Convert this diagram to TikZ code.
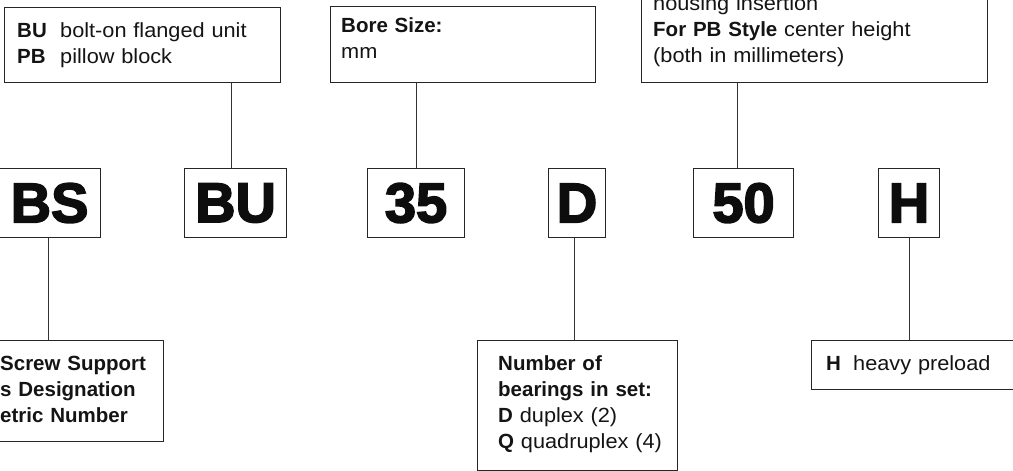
\documentclass[tikz,border=0pt]{standalone}
\usepackage{fontspec}
\setmainfont{Liberation Sans}[UprightFeatures={FakeStretch=1.06}]
\newfontfamily\heavy[BoldFeatures={FakeBold=3}]{Liberation Sans}
\begin{document}
\begin{tikzpicture}[x=1pt,y=-1pt,
  box/.style={draw=black!85, line width=1.1pt, inner sep=0pt, anchor=north west},
  code/.style={draw=black!85, line width=1.1pt, inner sep=0pt, anchor=north west,
    minimum height=69pt, font=\heavy\bfseries\fontsize{56}{60}\selectfont, text=black!95},
  txt/.style={inner sep=0pt, anchor=base west, align=left, text width=#1,
    font=\fontsize{20.5}{26}\selectfont, text=black!92},
  conn/.style={draw=black!80, line width=1.1pt}]
\useasboundingbox (0,0) rectangle (1013,471);
% top boxes
\node[box, minimum width=276pt, minimum height=75pt] (tl) at (4,7) {};
\node[txt=260pt] (tlt) at (17,37) {\makebox[43pt][l]{\textbf{BU}}bolt-on flanged unit\\\makebox[43pt][l]{\textbf{PB}}pillow block};
\node[box, minimum width=265pt, minimum height=76pt] (bore) at (330,6) {};
\node[txt=240pt] (boret) at (341,32) {\textbf{Bore Size:}\\mm};
\node[box, minimum width=346pt, minimum height=142pt] (tr) at (641,-60) {};
\node[txt=330pt] (trt) at (653,10) {housing insertion\\\textbf{For PB Style} center height\\(both in millimeters)};
% code boxes
\node[code, minimum width=102pt] (bs) at (-2,168) {BS};
\node[code, minimum width=102pt] (bu) at (184,168) {BU};
\node[code, minimum width=97pt] (th) at (367,168) {35};
\node[code, minimum width=57pt] (d) at (548,168) {D};
\node[code, minimum width=100pt] (fi) at (693,168) {50};
\node[code, minimum width=61pt] (h) at (878,168) {H};
% bottom boxes
\node[box, minimum width=263pt, minimum height=101pt] (bsd) at (-100,340) {};
\node[txt=200pt] (bsdt) at (0,370) {\textbf{\llap{Ball }Screw Support}\\\textbf{\llap{Bearing}s Designation}\\\textbf{\llap{M}etric Number}};
\node[box, minimum width=200pt, minimum height=130pt] (dd) at (477,340) {};
\node[txt=190pt] (ddt) at (498,370) {\textbf{Number of}\\\textbf{bearings in set:}\\\textbf{D} duplex (2)\\\textbf{Q} quadruplex (4)};
\node[box, minimum width=215pt, minimum height=49pt] (hd) at (811,340) {};
\node[txt=190pt] (hdt) at (826,370) {\makebox[27pt][l]{\textbf{H}}heavy preload};
% connectors
\draw[conn] ([xshift=-4pt]bu.north) -- ([xshift=-4pt]bu.north |- tl.south);
\draw[conn] (th.north) -- (th.north |- bore.south);
\draw[conn] ([xshift=-6pt]fi.north) -- ([xshift=-6pt]fi.north |- tr.south);
\draw[conn] ([xshift=-1pt]bs.south) -- ([xshift=-1pt]bs.south |- bsd.north);
\draw[conn] ([xshift=-2.5pt]d.south) -- ([xshift=-2.5pt]d.south |- dd.north);
\draw[conn] ([xshift=0.5pt]h.south) -- ([xshift=0.5pt]h.south |- hd.north);
\end{tikzpicture}
\end{document}
